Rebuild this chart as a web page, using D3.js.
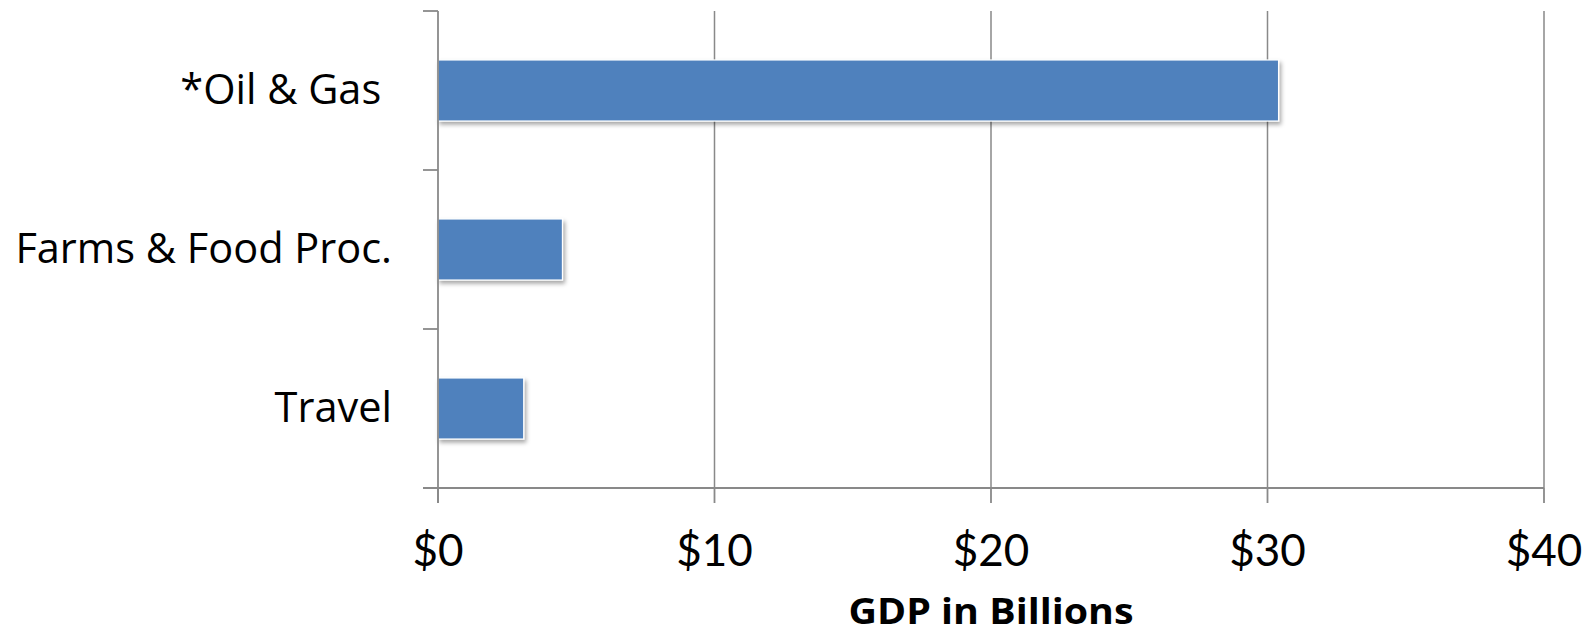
<!DOCTYPE html>
<html>
<head>
<meta charset="utf-8">
<script src="https://cdn.jsdelivr.net/npm/d3@7"></script>
<style>
  html, body { margin: 0; padding: 0; background: #fff; }
  svg { display: block; }
  text { fill: #000; }
  .tick-label { font-family: Lato, "Open Sans", sans-serif; }
  .cat-label, .axis-title { font-family: "Open Sans", Lato, sans-serif; }
</style>
</head>
<body>
<svg id="chart" width="1593" height="636"></svg>
<script>
// Sector GDP, in billions of dollars
const categories = ["*Oil & Gas ", "Farms & Food Proc.", "Travel"];
const values = [30.4, 4.5, 3.1];
const xTicks = [0, 10, 20, 30, 40];
const xTickLabels = ["$0", "$10", "$20", "$30", "$40"];
const axisTitle = "GDP in Billions";

const svg = d3.select("#chart");
const plotLeft = 438, plotRight = 1544, plotTop = 11, plotBottom = 488;
const axisColor = "#898989";

const x = d3.scaleLinear().domain([0, 40]).range([plotLeft, plotRight]);
const y = d3.scaleBand().domain(categories).range([plotTop, plotBottom])
  .paddingInner(0.616).paddingOuter(0.308);
const band = d3.scaleBand().domain(categories).range([plotTop, plotBottom]);

// soft shadow under the bars
const defs = svg.append("defs");
const f = defs.append("filter").attr("id", "shadow")
  .attr("x", "-10%").attr("y", "-20%").attr("width", "130%").attr("height", "160%");
f.append("feDropShadow").attr("dx", 2).attr("dy", 3).attr("stdDeviation", 2)
  .attr("flood-color", "#000").attr("flood-opacity", 0.35);

// vertical gridlines
svg.append("g").selectAll("line").data(xTicks.slice(1)).join("line")
  .attr("x1", d => x(d)).attr("x2", d => x(d))
  .attr("y1", plotTop).attr("y2", plotBottom)
  .attr("stroke", axisColor).attr("stroke-width", 1.5);

// bars
svg.append("g").selectAll("rect").data(values).join("rect")
  .attr("x", x(0))
  .attr("y", (d, i) => y(categories[i]))
  .attr("width", d => x(d) - x(0))
  .attr("height", y.bandwidth())
  .attr("fill", "#4F81BD")
  .attr("stroke", "#fff").attr("stroke-width", 1.2)
  .attr("filter", "url(#shadow)");

// y axis with ticks at category boundaries
const yAxis = svg.append("g");
yAxis.append("line").attr("x1", plotLeft).attr("x2", plotLeft).attr("y1", plotTop).attr("y2", plotBottom + 15)
  .attr("stroke", axisColor).attr("stroke-width", 1.8);
const bounds = categories.map(c => band(c)).concat([plotBottom]);
yAxis.selectAll("line.tick").data(bounds).join("line").attr("class", "tick")
  .attr("x1", plotLeft - 15).attr("x2", plotLeft).attr("y1", d => d).attr("y2", d => d)
  .attr("stroke", axisColor).attr("stroke-width", 1.8);

// category labels
svg.append("g").selectAll("text").data(categories).join("text")
  .attr("class", "cat-label")
  .attr("x", 392)
  .attr("y", d => band(d) + band.bandwidth() / 2 + 13.5)
  .attr("text-anchor", "end")
  .style("white-space", "pre")
  .attr("font-size", 41.5)
  .text(d => d);

// x axis
const xAxis = svg.append("g");
xAxis.append("line").attr("x1", plotLeft - 15).attr("x2", plotRight).attr("y1", plotBottom).attr("y2", plotBottom)
  .attr("stroke", axisColor).attr("stroke-width", 1.8);
xAxis.selectAll("line.tick").data(xTicks).join("line").attr("class", "tick")
  .attr("x1", d => x(d)).attr("x2", d => x(d)).attr("y1", plotBottom).attr("y2", plotBottom + 15)
  .attr("stroke", axisColor).attr("stroke-width", 1.8);
xAxis.selectAll("text").data(xTicks).join("text")
  .attr("class", "tick-label")
  .attr("x", d => x(d)).attr("y", 566)
  .attr("text-anchor", "middle")
  .attr("font-size", 44)
  .text((d, i) => xTickLabels[i]);

// axis title
svg.append("text")
  .attr("class", "axis-title")
  .attr("x", (plotLeft + plotRight) / 2).attr("y", 624)
  .attr("text-anchor", "middle")
  .attr("font-size", 36).attr("font-weight", "bold")
  .attr("textLength", 285).attr("lengthAdjust", "spacingAndGlyphs")
  .text(axisTitle);
</script>
</body>
</html>
